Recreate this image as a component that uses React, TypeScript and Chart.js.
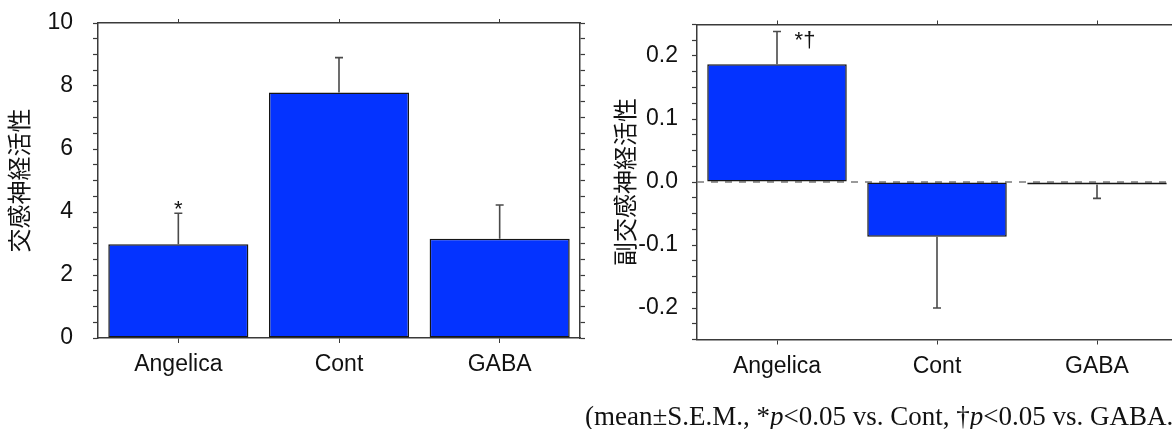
import React, { useEffect, useRef } from "react";
import { Chart, registerables } from "chart.js";

Chart.register(...registerables);

// ---- data ----
const categories = ["Angelica", "Cont", "GABA"];
const sympatheticMeans = [2.98, 7.79, 3.15];
const sympatheticSEM = [0.98, 1.11, 1.07];
const sympatheticMarks = ["*", "", ""];
const parasympatheticMeans = [0.187, -0.087, -0.004];
const parasympatheticSEM = [0.052, 0.113, 0.022];
const parasympatheticMarks = ["*†", "", ""];
const sympatheticTitle = "交感神経活性";
const parasympatheticTitle = "副交感神経活性";
const footnoteParts = ["(mean±S.E.M., *", "p", "<0.05 vs. Cont, †", "p", "<0.05 vs. GABA.)"];

const SANS = '"Liberation Sans", Arial, sans-serif';
const CJK = '"Noto Sans CJK JP", "Noto Sans CJK SC", sans-serif';
const AXIS = "#3a3a3a";
const BLUE = "#0433FF";

type Cfg = {
  means: number[];
  errs: number[];
  marks: string[];
  title: string;
  min: number;
  max: number;
  step: number;
  labelEvery: number;
  digits: number;
  yWidth: number;
  yPad: number;
  topH: number;
  bottomH: number;
  rightW: number;
  markDX: number;
  markDY: number;
  zeroLine: boolean;
};

const noPad = (s: any) => {
  s.paddingTop = 0;
  s.paddingBottom = 0;
  s.paddingLeft = 0;
  s.paddingRight = 0;
};

function makeChart(canvas: HTMLCanvasElement, c: Cfg) {
  const errPlugin = {
    id: "errAndMarks",
    beforeDatasetsDraw(chart: any) {
      if (!c.zeroLine) return;
      const { ctx, chartArea, scales } = chart;
      const y0 = scales.y.getPixelForValue(0);
      ctx.save();
      ctx.strokeStyle = "#7a7a7a";
      ctx.lineWidth = 1.5;
      ctx.setLineDash([7, 7]);
      ctx.beginPath();
      ctx.moveTo(chartArea.left, y0);
      ctx.lineTo(chartArea.right, y0);
      ctx.stroke();
      ctx.restore();
    },
    afterDatasetsDraw(chart: any) {
      const { ctx, scales } = chart;
      ctx.save();
      c.means.forEach((m, i) => {
        const x = scales.x.getPixelForValue(i);
        const s = m >= 0 ? 1 : -1;
        const yA = scales.y.getPixelForValue(m);
        const yB = scales.y.getPixelForValue(m + s * c.errs[i]);
        ctx.strokeStyle = "#4a4a4a";
        ctx.lineWidth = 1.6;
        ctx.beginPath();
        ctx.moveTo(x, yA);
        ctx.lineTo(x, yB);
        ctx.moveTo(x - 4, yB);
        ctx.lineTo(x + 4, yB);
        ctx.stroke();
        if (c.marks[i]) {
          ctx.fillStyle = "#111";
          ctx.font = `22px ${SANS}`;
          ctx.textAlign = "center";
          ctx.textBaseline = "alphabetic";
          ctx.fillText(c.marks[i], x + c.markDX, yB + c.markDY);
        }
      });
      ctx.restore();
    },
  };

  const tickLabel = (v: number) => {
    const r = v / c.labelEvery;
    if (Math.abs(r - Math.round(r)) < 1e-6) {
      if (Math.abs(v) < 1e-9) return (0).toFixed(c.digits);
      return v.toFixed(c.digits);
    }
    return "";
  };

  const yCommon = {
    min: c.min,
    max: c.max,
    border: { display: true, color: AXIS, width: 1.5 },
    grid: { drawOnChartArea: false, drawTicks: true, tickLength: 5, tickColor: AXIS, tickWidth: 1.2 },
  };

  return new Chart(canvas, {
    type: "bar",
    data: {
      labels: categories,
      datasets: [
        {
          data: c.means,
          backgroundColor: BLUE,
          borderColor: "#161616",
          borderWidth: 1.5,
          borderSkipped: false,
          barPercentage: 0.872,
          categoryPercentage: 1,
          xAxisID: "x",
          yAxisID: "y",
        },
      ],
    },
    options: {
      animation: false,
      responsive: false,
      devicePixelRatio: 1,
      layout: { padding: 0 },
      plugins: { legend: { display: false }, tooltip: { enabled: false } },
      scales: {
        x: {
          type: "category",
          position: "bottom",
          offset: true,
          border: { display: true, color: AXIS, width: 1.5 },
          grid: { drawOnChartArea: false, offset: false, tickLength: 5, tickColor: AXIS },
          ticks: { color: "#111", font: { size: 23, family: SANS }, padding: 8, maxRotation: 0 },
          afterFit: (s: any) => {
            s.height = c.bottomH;
            noPad(s);
          },
        },
        x2: {
          type: "category",
          position: "top",
          offset: true,
          labels: categories,
          border: { display: true, color: AXIS, width: 1.5 },
          grid: { drawOnChartArea: false, offset: false, tickLength: 4, tickColor: AXIS },
          ticks: { display: false },
          afterFit: (s: any) => {
            s.height = c.topH;
            noPad(s);
          },
        },
        y: {
          ...yCommon,
          position: "left",
          ticks: {
            stepSize: c.step,
            autoSkip: false,
            color: "#111",
            font: { size: 23, family: SANS },
            padding: c.yPad,
            callback: (v: any) => tickLabel(Number(v)),
          },
          title: {
            display: true,
            text: c.title,
            color: "#111",
            font: { size: 24, family: CJK },
            padding: { top: 4, bottom: 0 },
          },
          afterFit: (s: any) => {
            s.width = c.yWidth;
            noPad(s);
          },
        },
        y2: {
          ...yCommon,
          position: "right",
          ticks: { stepSize: c.step, autoSkip: false, display: false },
          afterFit: (s: any) => {
            s.width = c.rightW;
            noPad(s);
          },
        },
      },
    } as any,
    plugins: [errPlugin],
  });
}

function ChartBox(props: { cfg: Cfg; left: number; width: number }) {
  const ref = useRef<HTMLCanvasElement | null>(null);
  useEffect(() => {
    if (!ref.current) return;
    const ch = makeChart(ref.current, props.cfg);
    return () => ch.destroy();
  }, []);
  return (
    <canvas
      ref={ref}
      width={props.width}
      height={429}
      style={{ position: "absolute", left: props.left, top: 0, width: props.width, height: 429 }}
    />
  );
}

const leftCfg: Cfg = {
  means: sympatheticMeans,
  errs: sympatheticSEM,
  marks: sympatheticMarks,
  title: sympatheticTitle,
  min: 0,
  max: 10,
  step: 0.5,
  labelEvery: 2,
  digits: 0,
  yWidth: 98,
  yPad: 20,
  topH: 23,
  bottomH: 91,
  rightW: 20,
  markDX: 0,
  markDY: 3,
  zeroLine: false,
};

const rightCfg: Cfg = {
  means: parasympatheticMeans,
  errs: parasympatheticSEM,
  marks: parasympatheticMarks,
  title: parasympatheticTitle,
  min: -0.25,
  max: 0.25,
  step: 0.025,
  labelEvery: 0.1,
  digits: 1,
  yWidth: 91,
  yPad: 14,
  topH: 24.5,
  bottomH: 89.5,
  rightW: 20,
  markDX: 28,
  markDY: 16,
  zeroLine: true,
};

export default function App() {
  return (
    <div
      style={{
        position: "fixed",
        left: 0,
        top: 0,
        width: 1172,
        height: 429,
        overflow: "hidden",
        background: "#fff",
      }}
    >
      <ChartBox cfg={leftCfg} left={0} width={600} />
      <ChartBox cfg={rightCfg} left={606} width={591} />
      <div
        style={{
          position: "absolute",
          left: 585,
          top: 401,
          whiteSpace: "nowrap",
          font: '27px "Liberation Serif", "Times New Roman", serif',
          lineHeight: "30px",
          color: "#111",
        }}
      >
        {footnoteParts[0]}
        <i>{footnoteParts[1]}</i>
        {footnoteParts[2]}
        <i>{footnoteParts[3]}</i>
        {footnoteParts[4]}
      </div>
    </div>
  );
}
